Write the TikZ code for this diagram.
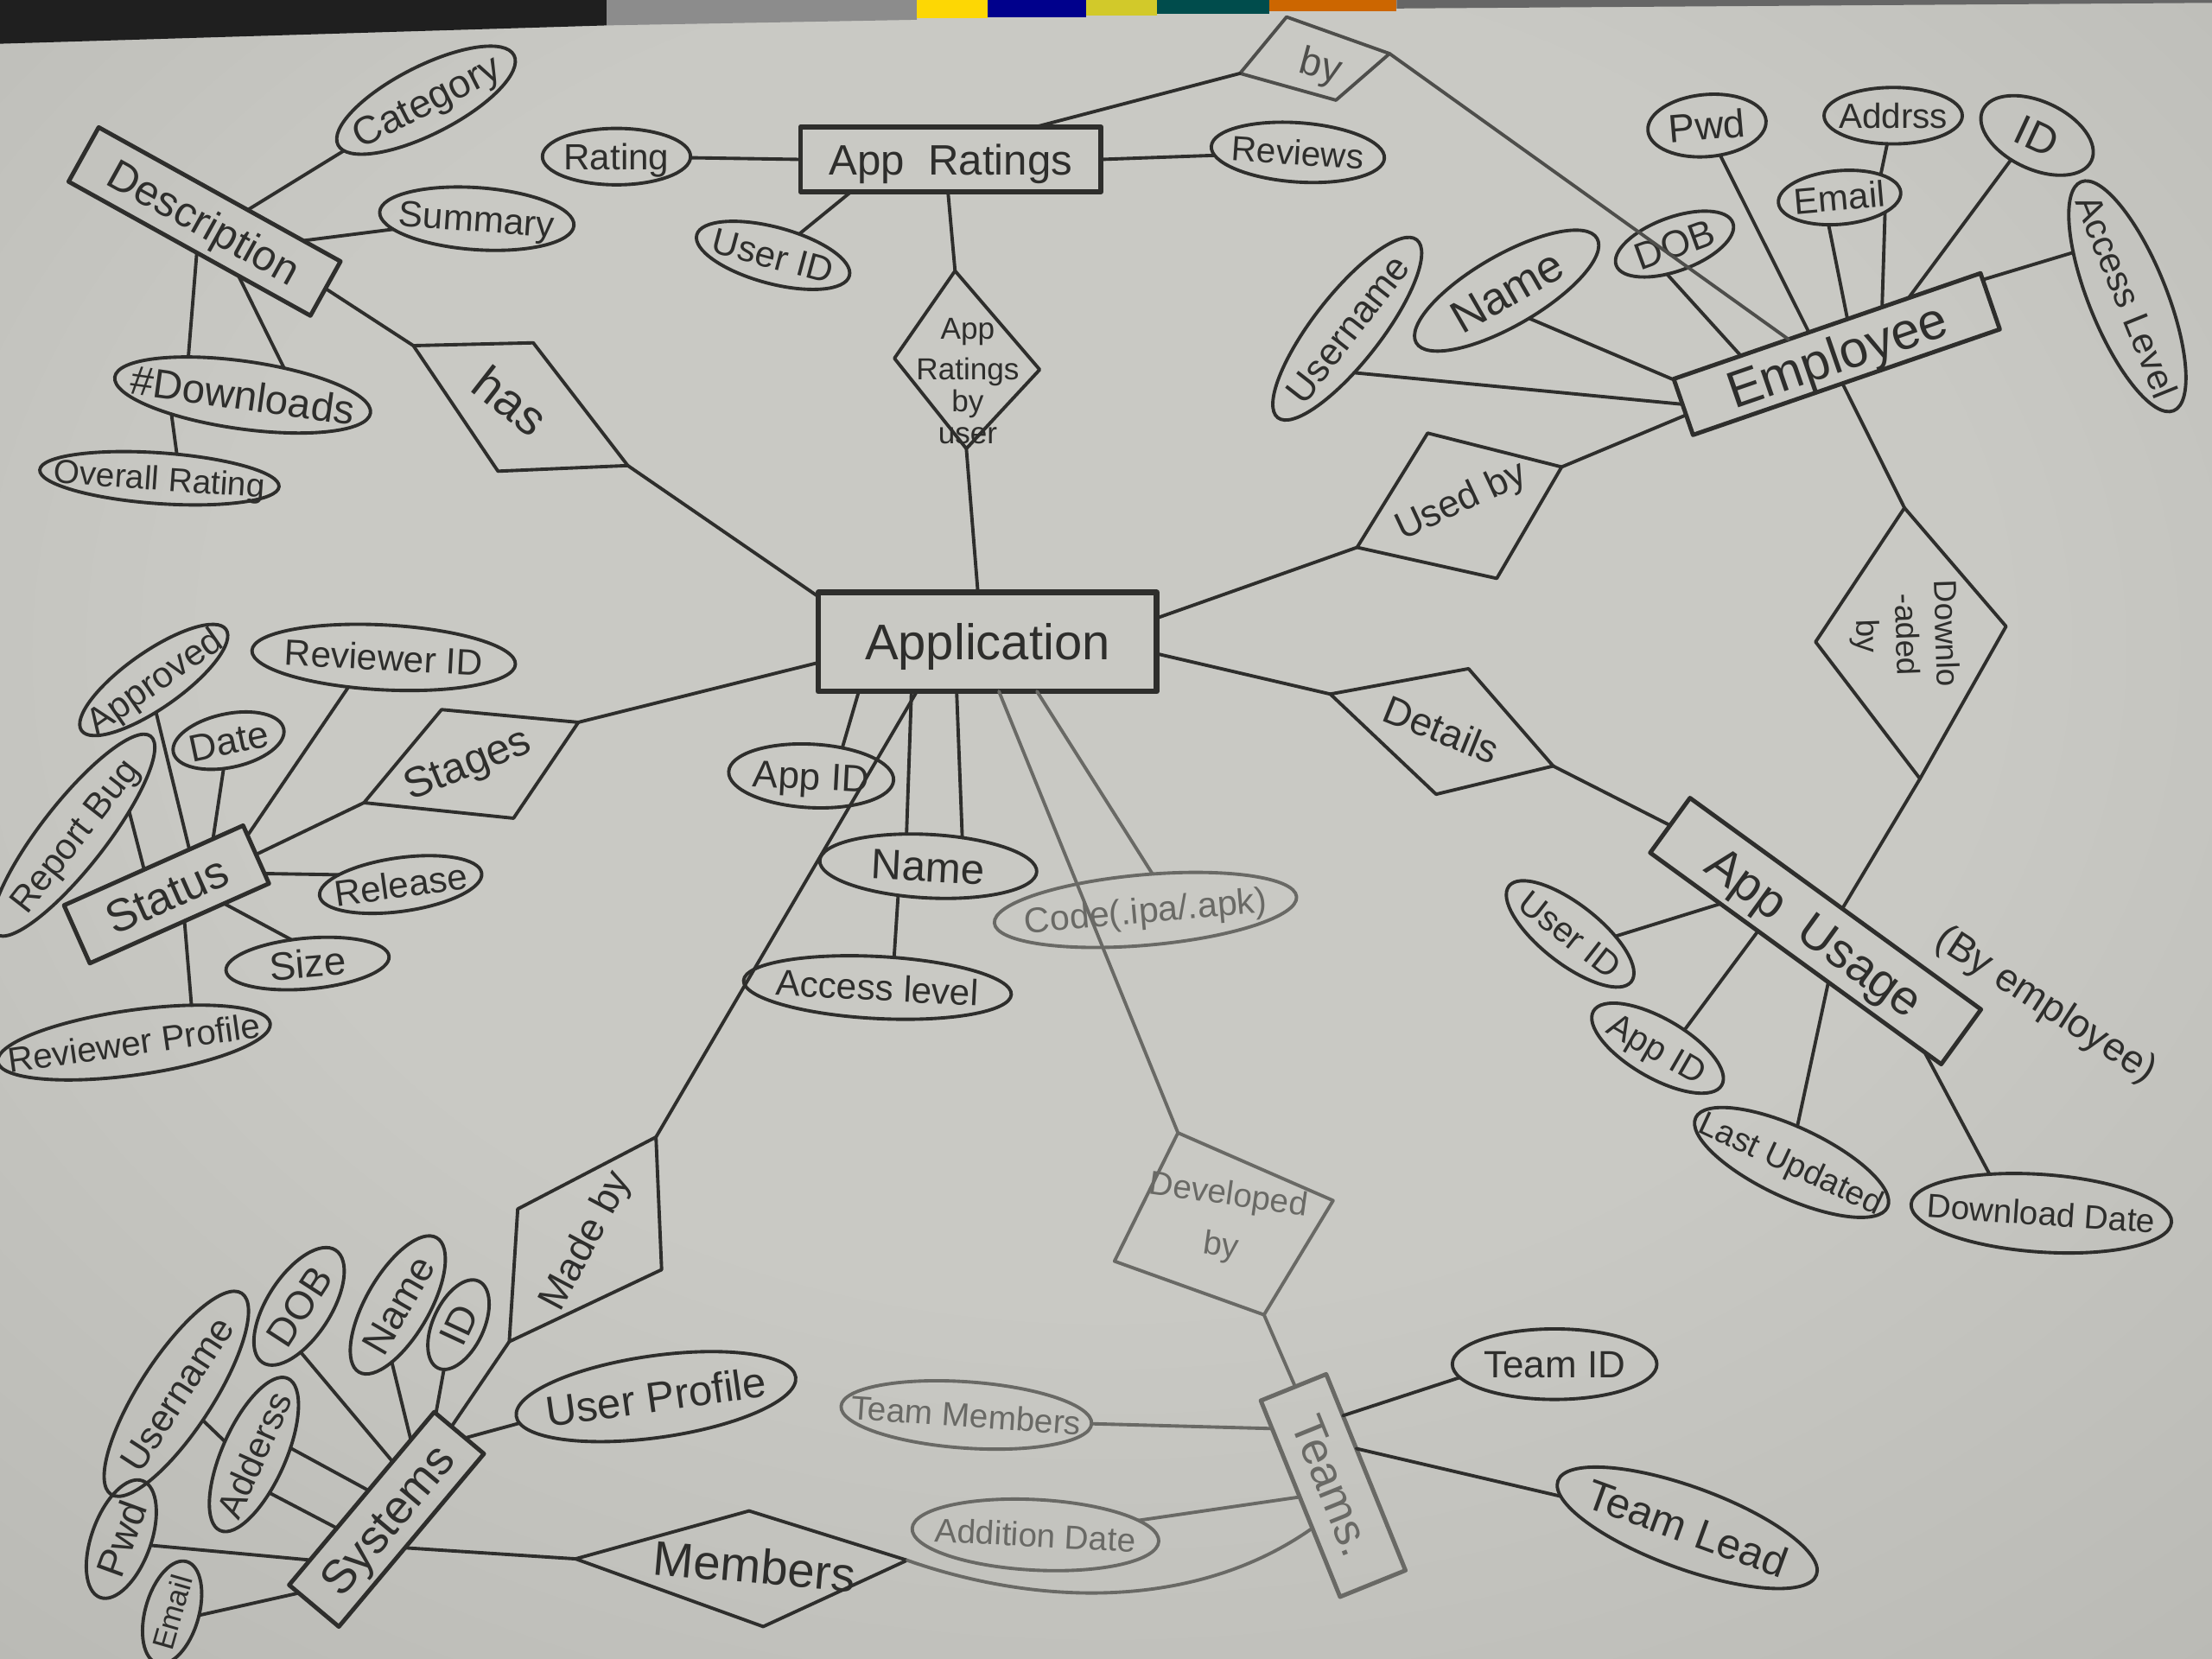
\documentclass[tikz,border=0pt]{standalone}
\usepackage{fontspec}
\setmainfont{Liberation Sans}
\usetikzlibrary{shapes.geometric}
\newlength\PX
\setlength\PX{0.16327mm}
\newcommand\tx[1]{\makebox[0pt]{\smash{\raisebox{-0.36em}{#1}}}}
\newcommand\fsz[1]{\fontsize{#1}{#1}\selectfont}
\definecolor{ink}{RGB}{46,46,44}
\definecolor{inkm}{RGB}{78,78,75}
\definecolor{inkl}{RGB}{105,105,101}
\definecolor{paperin}{RGB}{201,201,196}
\definecolor{papermid}{RGB}{183,183,178}
\definecolor{paperout}{RGB}{132,132,127}
\pgfdeclareradialshading{paper}{\pgfpoint{0bp}{8bp}}{color(0bp)=(paperin); color(20bp)=(paperin); color(42bp)=(papermid); color(72bp)=(paperout)}
\tikzset{
  ebox/.style={draw=ink, rectangle, line width=1.4pt, inner sep=0pt, outer sep=0pt, text=ink},
  attr/.style={draw=ink, ellipse, line width=1.1pt, inner sep=0pt, outer sep=0pt, text=ink},
  relshape/.style={draw=ink, line width=1.1pt},
  lbl/.style={inner sep=0pt, text=ink, align=center},
  con/.style={draw=ink, line width=1.1pt},
}
\begin{document}
\begin{tikzpicture}[x=0.16327mm, y=-0.16327mm, line cap=round, line join=round]
\useasboundingbox (0,0) rectangle (1568,1176);
\shade[shading=paper] (0,0) rectangle (1568,1176);
% top edge of photo
\fill[black!88] (0,0) -- (430,0) -- (430,18) -- (0,31) -- cycle;
\fill[black!45] (430,0) -- (650,0) -- (650,14) -- (430,18) -- cycle;
\fill[yellow!75!orange] (650,0) rectangle (700,13);
\fill[blue!55!black] (700,0) rectangle (770,12);
\fill[yellow!80!black] (770,0) rectangle (820,11);
\fill[teal!60!black] (820,0) rectangle (900,10);
\fill[orange!80!black] (900,0) rectangle (990,8);
\fill[black!60] (990,0) -- (1568,0) -- (1568,2) -- (990,6) -- cycle;

% ---------- entities ----------
\node[ebox, minimum width=240\PX, minimum height=70\PX, line width=1.9pt, font=\fsz{16.5}] (app) at (700,455) {\tx{Application}};
\node[ebox, minimum width=213\PX, minimum height=46\PX, line width=1.6pt, font=\fsz{14}] (apprat) at (674,113) {\tx{App\ \ Ratings}};
\node[ebox, minimum width=196\PX, minimum height=44\PX, rotate=-29, font=\fsz{14}] (desc) at (145,157) {\tx{Description}};
\node[ebox, minimum width=230\PX, minimum height=42\PX, rotate=19, font=\fsz{17}] (emp) at (1302,251) {\tx{Employee}};
\node[ebox, minimum width=139\PX, minimum height=45\PX, rotate=24, font=\fsz{15}] (status) at (118,634) {\tx{Status}};
\node[ebox, minimum width=255\PX, minimum height=48\PX, rotate=-36, font=\fsz{16}] (usage) at (1287,660) {\tx{App\ \ Usage}};
\node[ebox, minimum width=160\PX, minimum height=46\PX, rotate=50, font=\fsz{15.5}] (systems) at (274,1077) {\tx{Systems}};
\node[ebox, draw=inkl, text=inkl, minimum width=150\PX, minimum height=50\PX, rotate=-68, font=\fsz{15}] (teams) at (945,1053) {\tx{Teams.}};

% ---------- attributes ----------
\node[attr, minimum width=140\PX, minimum height=48\PX, rotate=27, font=\fsz{13}] (cat) at (302,71) {\tx{Category}};
\node[attr, minimum width=138\PX, minimum height=44\PX, rotate=-4, font=\fsz{12}] (sum) at (338,155) {\tx{Summary}};
\node[attr, minimum width=183\PX, minimum height=48\PX, rotate=-8, font=\fsz{13.5}] (dl) at (172,280) {\tx{\#Downloads}};
\node[attr, minimum width=170\PX, minimum height=36\PX, rotate=-4, font=\fsz{11}] (ovr) at (113,339) {\tx{Overall Rating}};

\node[attr, minimum width=105\PX, minimum height=40\PX, font=\fsz{12}] (rating) at (437,111) {\tx{Rating}};
\node[attr, minimum width=112\PX, minimum height=40\PX, rotate=-15, font=\fsz{12}] (rid) at (548,181) {\tx{User ID}};
\node[attr, minimum width=123\PX, minimum height=42\PX, rotate=-4, font=\fsz{11.5}] (reviews) at (920,108) {\tx{Reviews}};

\node[attr, minimum width=84\PX, minimum height=44\PX, rotate=5, font=\fsz{13}] (epwd) at (1210,89) {\tx{Pwd}};
\node[attr, minimum width=98\PX, minimum height=40\PX, font=\fsz{11.5}] (eaddr) at (1342,82) {\tx{Addrss}};
\node[attr, minimum width=85\PX, minimum height=48\PX, rotate=-25, font=\fsz{14}] (eid) at (1444,96) {\tx{ID}};
\node[attr, minimum width=87\PX, minimum height=38\PX, rotate=5, font=\fsz{12}] (eemail) at (1304,140) {\tx{Email}};
\node[attr, minimum width=175\PX, minimum height=55\PX, rotate=-68, font=\fsz{12}] (eacc) at (1508,210) {\tx{Access Level}};
\node[attr, minimum width=88\PX, minimum height=38\PX, rotate=20, font=\fsz{12.5}] (edob) at (1187,173) {\tx{DOB}};
\node[attr, minimum width=148\PX, minimum height=50\PX, rotate=30, font=\fsz{15}] (ename) at (1068,206) {\tx{Name}};
\node[attr, minimum width=160\PX, minimum height=48\PX, rotate=52, font=\fsz{12.5}] (euser) at (955,233) {\tx{Username}};

\node[attr, minimum width=125\PX, minimum height=40\PX, rotate=35, font=\fsz{12}] (appr) at (109,482) {\tx{Approved}};
\node[attr, minimum width=187\PX, minimum height=46\PX, rotate=-3, font=\fsz{12}] (revid) at (272,466) {\tx{Reviewer ID}};
\node[attr, minimum width=80\PX, minimum height=38\PX, rotate=12, font=\fsz{12.5}] (sdate) at (162,525) {\tx{Date}};
\node[attr, minimum width=178\PX, minimum height=46\PX, rotate=52, font=\fsz{12}] (rbug) at (52,592) {\tx{Report Bug}};
\node[attr, minimum width=116\PX, minimum height=38\PX, rotate=8, font=\fsz{12}] (rel) at (284,627) {\tx{Release}};
\node[attr, minimum width=116\PX, minimum height=36\PX, rotate=5, font=\fsz{13}] (size) at (218,683) {\tx{Size}};
\node[attr, minimum width=195\PX, minimum height=46\PX, rotate=8, font=\fsz{11.5}] (revprof) at (95,739) {\tx{Reviewer Profile}};

\node[attr, minimum width=117\PX, minimum height=45\PX, rotate=-3, font=\fsz{12.5}] (appid) at (575,550) {\tx{App ID}};
\node[attr, minimum width=154\PX, minimum height=45\PX, rotate=-3, font=\fsz{14}] (aname) at (658,614) {\tx{Name}};
\node[attr, draw=inkl, text=inkl, minimum width=215\PX, minimum height=50\PX, rotate=5, font=\fsz{11.7}] (code) at (812,645) {\tx{Code(.ipa/.apk)}};
\node[attr, minimum width=190\PX, minimum height=44\PX, rotate=-3, font=\fsz{12}] (aacc) at (622,700) {\tx{Access level}};

\node[attr, minimum width=110\PX, minimum height=42\PX, rotate=-38, font=\fsz{11.5}] (uuid) at (1113,662) {\tx{User ID}};
\node[attr, minimum width=105\PX, minimum height=42\PX, rotate=-30, font=\fsz{11.5}] (uappid) at (1175,743) {\tx{App ID}};
\node[attr, minimum width=150\PX, minimum height=50\PX, rotate=-25, font=\fsz{11}] (ulast) at (1270,824) {\tx{Last Updated}};
\node[attr, minimum width=185\PX, minimum height=55\PX, rotate=-4, font=\fsz{11}] (udate) at (1447,860) {\tx{Download Date}};
\node[lbl, rotate=-33, font=\fsz{13}] (byemp) at (1450,713) {(By employee)};

\node[attr, minimum width=200\PX, minimum height=58\PX, rotate=8, font=\fsz{14}] (uprof) at (465,990) {\tx{User Profile}};
\node[attr, minimum width=68\PX, minimum height=36\PX, rotate=65, font=\fsz{13}] (sid) at (325,939) {\tx{ID}};
\node[attr, minimum width=110\PX, minimum height=45\PX, rotate=60, font=\fsz{13}] (sname) at (282,925) {\tx{Name}};
\node[attr, minimum width=95\PX, minimum height=45\PX, rotate=57, font=\fsz{13}] (sdob) at (212,926) {\tx{DOB}};
\node[attr, minimum width=170\PX, minimum height=52\PX, rotate=57, font=\fsz{12.5}] (suser) at (125,988) {\tx{Username}};
\node[attr, minimum width=118\PX, minimum height=45\PX, rotate=66, font=\fsz{12}] (saddr) at (180,1031) {\tx{Adderss}};
\node[attr, minimum width=88\PX, minimum height=42\PX, rotate=70, font=\fsz{13}] (spwd) at (86,1091) {\tx{Pwd}};
\node[attr, minimum width=75\PX, minimum height=38\PX, rotate=74, font=\fsz{10}] (semail) at (122,1143) {\tx{Email}};

\node[attr, minimum width=145\PX, minimum height=50\PX, font=\fsz{12.5}] (tid) at (1102,967) {\tx{Team ID}};
\node[attr, minimum width=195\PX, minimum height=58\PX, rotate=-20, font=\fsz{14}] (tlead) at (1196,1083) {\tx{Team Lead}};
\node[attr, draw=inkl, text=inkl, minimum width=178\PX, minimum height=47\PX, rotate=-4, font=\fsz{11}] (tmem) at (685,1003) {\tx{Team Members}};
\node[attr, draw=inkl, text=inkl, minimum width=175\PX, minimum height=50\PX, rotate=-3, font=\fsz{11}] (tadd) at (734,1088) {\tx{Addition Date}};

% ---------- relationships ----------
\coordinate (has-tl) at (293,245); \coordinate (has-tr) at (378,243);
\coordinate (has-r) at (445,330); \coordinate (has-bl) at (353,334);
\draw[relshape] (has-tl) -- (has-tr) -- (has-r) -- (has-bl) -- cycle;
\node[lbl, rotate=-38, font=\fsz{16}] (has) at (362,284) {has};

\coordinate (by-l) at (879,52); \coordinate (by-t) at (912,12);
\coordinate (by-r) at (985,38); \coordinate (by-b) at (947,71);
\draw[relshape, draw=inkm] (by-l) -- (by-t) -- (by-r) -- (by-b) -- cycle;
\node[lbl, text=inkm, rotate=-15, font=\fsz{13}] (by) at (936,48) {by};

\coordinate (arbu-t) at (677,192); \coordinate (arbu-r) at (737,262);
\coordinate (arbu-b) at (685,318); \coordinate (arbu-l) at (634,254);
\draw[relshape] (arbu-t) -- (arbu-r) -- (arbu-b) -- (arbu-l) -- cycle;
\node[lbl, font=\fontsize{10}{10.5}\selectfont] (arbu) at (686,270) {App\\[3pt]Ratings\\by\\user};

\coordinate (ub-t) at (1012,307); \coordinate (ub-r) at (1107,331);
\coordinate (ub-b) at (1061,410); \coordinate (ub-l) at (962,388);
\draw[relshape] (ub-t) -- (ub-r) -- (ub-b) -- (ub-l) -- cycle;
\node[lbl, rotate=25, font=\fsz{12.5}] (usedby) at (1036,356) {Used by};

\coordinate (dlb-t) at (1350,360); \coordinate (dlb-r) at (1422,444);
\coordinate (dlb-b) at (1361,552); \coordinate (dlb-l) at (1287,455);
\draw[relshape] (dlb-t) -- (dlb-r) -- (dlb-b) -- (dlb-l) -- cycle;
\node[lbl, rotate=-88, font=\fontsize{10.5}{13}\selectfont] (dlby) at (1350,450) {Downlo\\-aded\\by};

\coordinate (det-l) at (943,492); \coordinate (det-t) at (1041,474);
\coordinate (det-r) at (1101,543); \coordinate (det-b) at (1018,563);
\draw[relshape] (det-l) -- (det-t) -- (det-r) -- (det-b) -- cycle;
\node[lbl, rotate=-22, font=\fsz{13}] (details) at (1022,517) {Details};

\coordinate (stg-tl) at (313,503); \coordinate (stg-tr) at (410,512);
\coordinate (stg-br) at (364,580); \coordinate (stg-bl) at (258,569);
\draw[relshape] (stg-tl) -- (stg-tr) -- (stg-br) -- (stg-bl) -- cycle;
\node[lbl, rotate=22, font=\fsz{14}] (stages) at (332,543) {Stages};

\coordinate (mb-t) at (465,806); \coordinate (mb-r) at (469,900);
\coordinate (mb-b) at (361,951); \coordinate (mb-l) at (367,857);
\draw[relshape] (mb-t) -- (mb-r) -- (mb-b) -- (mb-l) -- cycle;
\node[lbl, rotate=62, font=\fsz{13}] (madeby) at (416,880) {Made by};

\coordinate (mem-l) at (408,1105); \coordinate (mem-t) at (531,1071);
\coordinate (mem-r) at (643,1106); \coordinate (mem-b) at (541,1153);
\draw[relshape] (mem-l) -- (mem-t) -- (mem-r) -- (mem-b) -- cycle;
\node[lbl, rotate=-5, font=\fsz{16}] (members) at (535,1110) {Members};

\coordinate (dev-t) at (835,803); \coordinate (dev-r) at (945,851);
\coordinate (dev-b) at (896,932); \coordinate (dev-l) at (790,894);
\draw[relshape, draw=inkl] (dev-t) -- (dev-r) -- (dev-b) -- (dev-l) -- cycle;
\node[lbl, text=inkl, rotate=-8, font=\fontsize{11}{17}\selectfont] (devby) at (868,866) {Developed\\by};

% ---------- connectors ----------
% description
\draw[con] (desc.44) -- (cat);
\draw[con] (desc.18) -- (sum);
\draw[con] (desc.-75) -- (dl.153);
\draw[con] (desc.-29) -- (dl.41);
\draw[con] (dl.-157) -- (ovr.58);
\draw[con] (desc.0) -- (has-tl);
\draw[con] (has-r) -- (app.165);
% app ratings
\draw[con] (rating) -- (apprat.west);
\draw[con] (apprat.-162) -- (rid);
\draw[con] (apprat.east) -- (reviews);
\draw[con] (apprat.21) -- (by-l);
\draw[con] (apprat.-95) -- (arbu-t);
\draw[con] (arbu-b) -- (app.101);
% employee
\draw[con, draw=inkm] (by-r) -- (emp.144);
\draw[con] (epwd.-71) -- (emp.123);
\draw[con] (eaddr.-102) -- (eemail.24);
\draw[con] (eemail.-23) -- (emp.27);
\draw[con] (eemail.-117) -- (emp.54);
\draw[con] (eid.-112) -- (emp.19);
\draw[con] (eacc.209) -- (emp.8);
\draw[con] (edob.-124) -- (emp.162);
\draw[con] (ename.-81) -- (emp.170);
\draw[con] (euser.-133) -- (emp.179);
\draw[con] (app.8) -- (ub-l);
\draw[con] (ub-r) -- (emp.183);
\draw[con] (emp.-98) -- (dlb-t);
\draw[con] (dlb-b) -- (usage.76);
% app usage
\draw[con] (app.-4) -- (det-l);
\draw[con] (det-r) -- (usage.180);
\draw[con] (uuid.35) -- (usage.200);
\draw[con] (uappid.64) -- (usage.216);
\draw[con] (ulast.106) -- (usage.-40);
\draw[con] (udate.147) -- (usage.-12);
% status
\draw[con] (app.187) -- (stg-tr);
\draw[con] (stg-bl) -- (status.0);
\draw[con] (appr.-121) -- (status.39);
\draw[con] (sdate.-112) -- (status.26);
\draw[con] (revid.-137) -- (status.12);
\draw[con] (rbug.-29) -- (status.108);
\draw[con] (rel.163) -- (status.-12);
\draw[con] (size.119) -- (status.-33);
\draw[con] (revprof.25) -- (status.-80);
% application attributes
\draw[con] (app.201) -- (appid.45);
\draw[con] (app.213) -- (aname.127);
\draw[con] (app.238) -- (aname.43);
\draw[con] (aname.-133) -- (aacc.64);
\draw[con, draw=inkl] (app.315) -- (code.74);
\draw[con] (app.215) -- (mb-t);
\draw[con, draw=inkl] (app.283) -- (dev-t);
\draw[con, draw=inkl] (dev-b) -- (teams.179);
\draw[con] (mb-b) -- (systems.5);
% systems
\draw[con] (uprof.183) -- (systems.-4);
\draw[con] (sid.-173) -- (systems.15);
\draw[con] (sname.-156) -- (systems.23);
\draw[con] (sdob.-145) -- (systems.34);
\draw[con] (suser.-102) -- (saddr.90);
\draw[con] (saddr.-56) -- (systems.72);
\draw[con] (saddr.-134) -- (systems.140);
\draw[con] (spwd.-82) -- (systems.158);
\draw[con] (semail.-80) -- (systems.170);
\draw[con] (systems.-107) -- (mem-l);
\draw[con, draw=inkl] (mem-r) .. controls (740,1140) and (850,1140) .. (teams.-48);
% teams
\draw[con] (tid.188) -- (teams.150);
\draw[con] (tlead.186) -- (teams.126);
\draw[con, draw=inkl] (tmem.east) -- (teams.205);
\draw[con, draw=inkl] (tadd.11) -- (teams.-93);
\end{tikzpicture}
\end{document}
